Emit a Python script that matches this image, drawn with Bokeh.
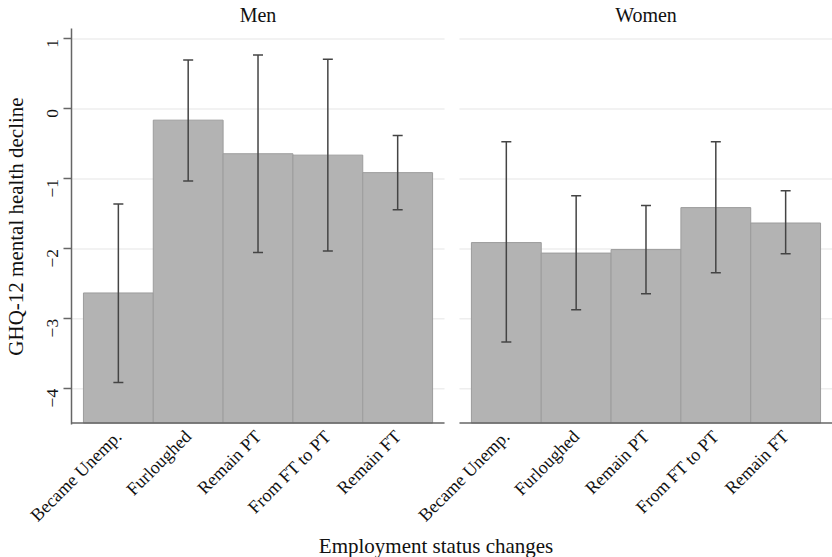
import numpy as np
from bokeh.plotting import figure
from bokeh.layouts import column
from bokeh.models import ColumnDataSource, Whisker, FixedTicker, TeeHead, Range1d
from bokeh.core.properties import value
from bokeh.embed import file_html
from bokeh.resources import INLINE

categories = ["Became Unemp.", "Furloughed", "Remain PT", "From FT to PT", "Remain FT"]
men_mean = [-2.63, -0.16, -0.64, -0.66, -0.91]
men_lower = [-3.91, -1.03, -2.05, -2.03, -1.44]
men_upper = [-1.36, 0.70, 0.77, 0.71, -0.38]
women_mean = [-1.91, -2.06, -2.01, -1.41, -1.63]
women_lower = [-3.33, -2.87, -2.64, -2.34, -2.07]
women_upper = [-0.47, -1.24, -1.38, -0.47, -1.17]
y_ticks = [-4, -3, -2, -1, 0, 1]
y_tick_labels = ["\u22124", "\u22123", "\u22122", "\u22121", "0", "1"]
panel_titles = ["Men", "Women"]
x_title = "Employment status changes"
y_title = "GHQ-12 mental health decline"

SERIF = "Liberation Serif"
TXT = "#111111"
AXC = "#666666"
Y0, Y1 = -4.49, 1.15
N = len(categories)
PAD, GAP = 0.171, 0.214
L0, L1 = 0.5 - PAD, N + 0.5 + PAD
OFF = (L1 - L0) + GAP
R0, R1 = L0 + OFF, L1 + OFF
W, LB = 832, 68
TOP_H, MAIN_H, BOT_H = 28, 507, 22

xs_men = [float(i) for i in range(1, N + 1)]
xs_women = [x + OFF for x in xs_men]
xr = Range1d(L0, R1)


def bare(height):
    f = figure(width=W, height=height, x_range=xr, y_range=(0, height),
               output_backend="svg", toolbar_location=None,
               min_border_left=LB, min_border_right=0, min_border_top=0,
               min_border_bottom=0)
    f.axis.visible = False
    f.grid.visible = False
    f.outline_line_color = None
    return f


# panel titles
p0 = bare(TOP_H)
p0.text(x=[(L0 + L1) / 2, (R0 + R1) / 2], y=[TOP_H - 14, TOP_H - 14], text=panel_titles,
        text_align="center", text_baseline="middle", text_font=value(SERIF),
        text_font_size="20px", text_color=TXT)

p = figure(width=W, height=MAIN_H, x_range=xr, y_range=(Y0 - 0.02, Y1),
           output_backend="svg", toolbar_location=None,
           min_border_left=LB, min_border_right=0, min_border_top=0,
           min_border_bottom=0)
p.outline_line_color = None
p.background_fill_color = "white"
p.border_fill_color = "white"
p.xgrid.grid_line_color = None
p.ygrid.grid_line_color = None

# per-panel gridlines and baseline
for a, b in [(L0, L1), (R0, R1)]:
    p.segment(x0=a, x1=b, y0=y_ticks, y1=y_ticks, line_color="#eeeeee", line_width=1.5)
    p.segment(x0=[a], x1=[b], y0=[Y0], y1=[Y0], line_color=AXC, line_width=1.5, level="overlay")

for xs, means, lows, highs in [(xs_men, men_mean, men_lower, men_upper),
                               (xs_women, women_mean, women_lower, women_upper)]:
    src = ColumnDataSource(dict(x=xs, top=means, lo=lows, hi=highs))
    p.vbar(x="x", top="top", bottom=Y0, width=1.0, source=src,
           fill_color="#b3b3b3", line_color="#9c9c9c", line_width=1)
    p.add_layout(Whisker(base="x", lower="lo", upper="hi", source=src,
                         line_color="#444444", line_width=1.5, level="overlay",
                         upper_head=TeeHead(size=10, line_color="#444444", line_width=1.5),
                         lower_head=TeeHead(size=10, line_color="#444444", line_width=1.5)))

xa = p.xaxis[0]
xticks = xs_men + xs_women
xa.ticker = FixedTicker(ticks=xticks)
xa.major_label_overrides = {x: c for x, c in zip(xticks, categories + categories)}
xa.major_label_orientation = np.pi / 4
xa.major_label_text_font = SERIF
xa.major_label_text_font_size = "18px"
xa.major_label_text_color = TXT
xa.major_tick_line_color = None
xa.minor_tick_line_color = None
xa.major_label_standoff = 3
xa.axis_line_color = None

ya = p.yaxis[0]
ya.ticker = FixedTicker(ticks=y_ticks)
ya.major_label_overrides = {t: l for t, l in zip(y_ticks, y_tick_labels)}
ya.major_label_orientation = np.pi / 2
ya.major_label_text_font = SERIF
ya.major_label_text_font_size = "17.5px"
ya.major_label_text_color = TXT
ya.major_tick_out = 8
ya.major_tick_in = 0
ya.major_tick_line_color = AXC
ya.major_tick_line_width = 1.5
ya.minor_tick_line_color = None
ya.major_label_standoff = 11
ya.axis_line_color = AXC
ya.axis_line_width = 1.5
ya.axis_label = y_title
ya.axis_label_text_font = SERIF
ya.axis_label_text_font_size = "21px"
ya.axis_label_text_font_style = "normal"
ya.axis_label_text_color = TXT
ya.axis_label_standoff = 11

# x-axis title, centred where the original has it
px_per_unit = (W - LB) / (R1 - L0)
p3 = bare(BOT_H)
p3.text(x=[L0 + (434 - LB) / px_per_unit], y=[BOT_H - 10], text=[x_title],
        text_align="center", text_baseline="middle", text_font=value(SERIF),
        text_font_size="21px", text_color=TXT)

layout = column(p0, p, p3, spacing=0)

with open("out.html", "w") as f:
    f.write(file_html(layout, INLINE))
